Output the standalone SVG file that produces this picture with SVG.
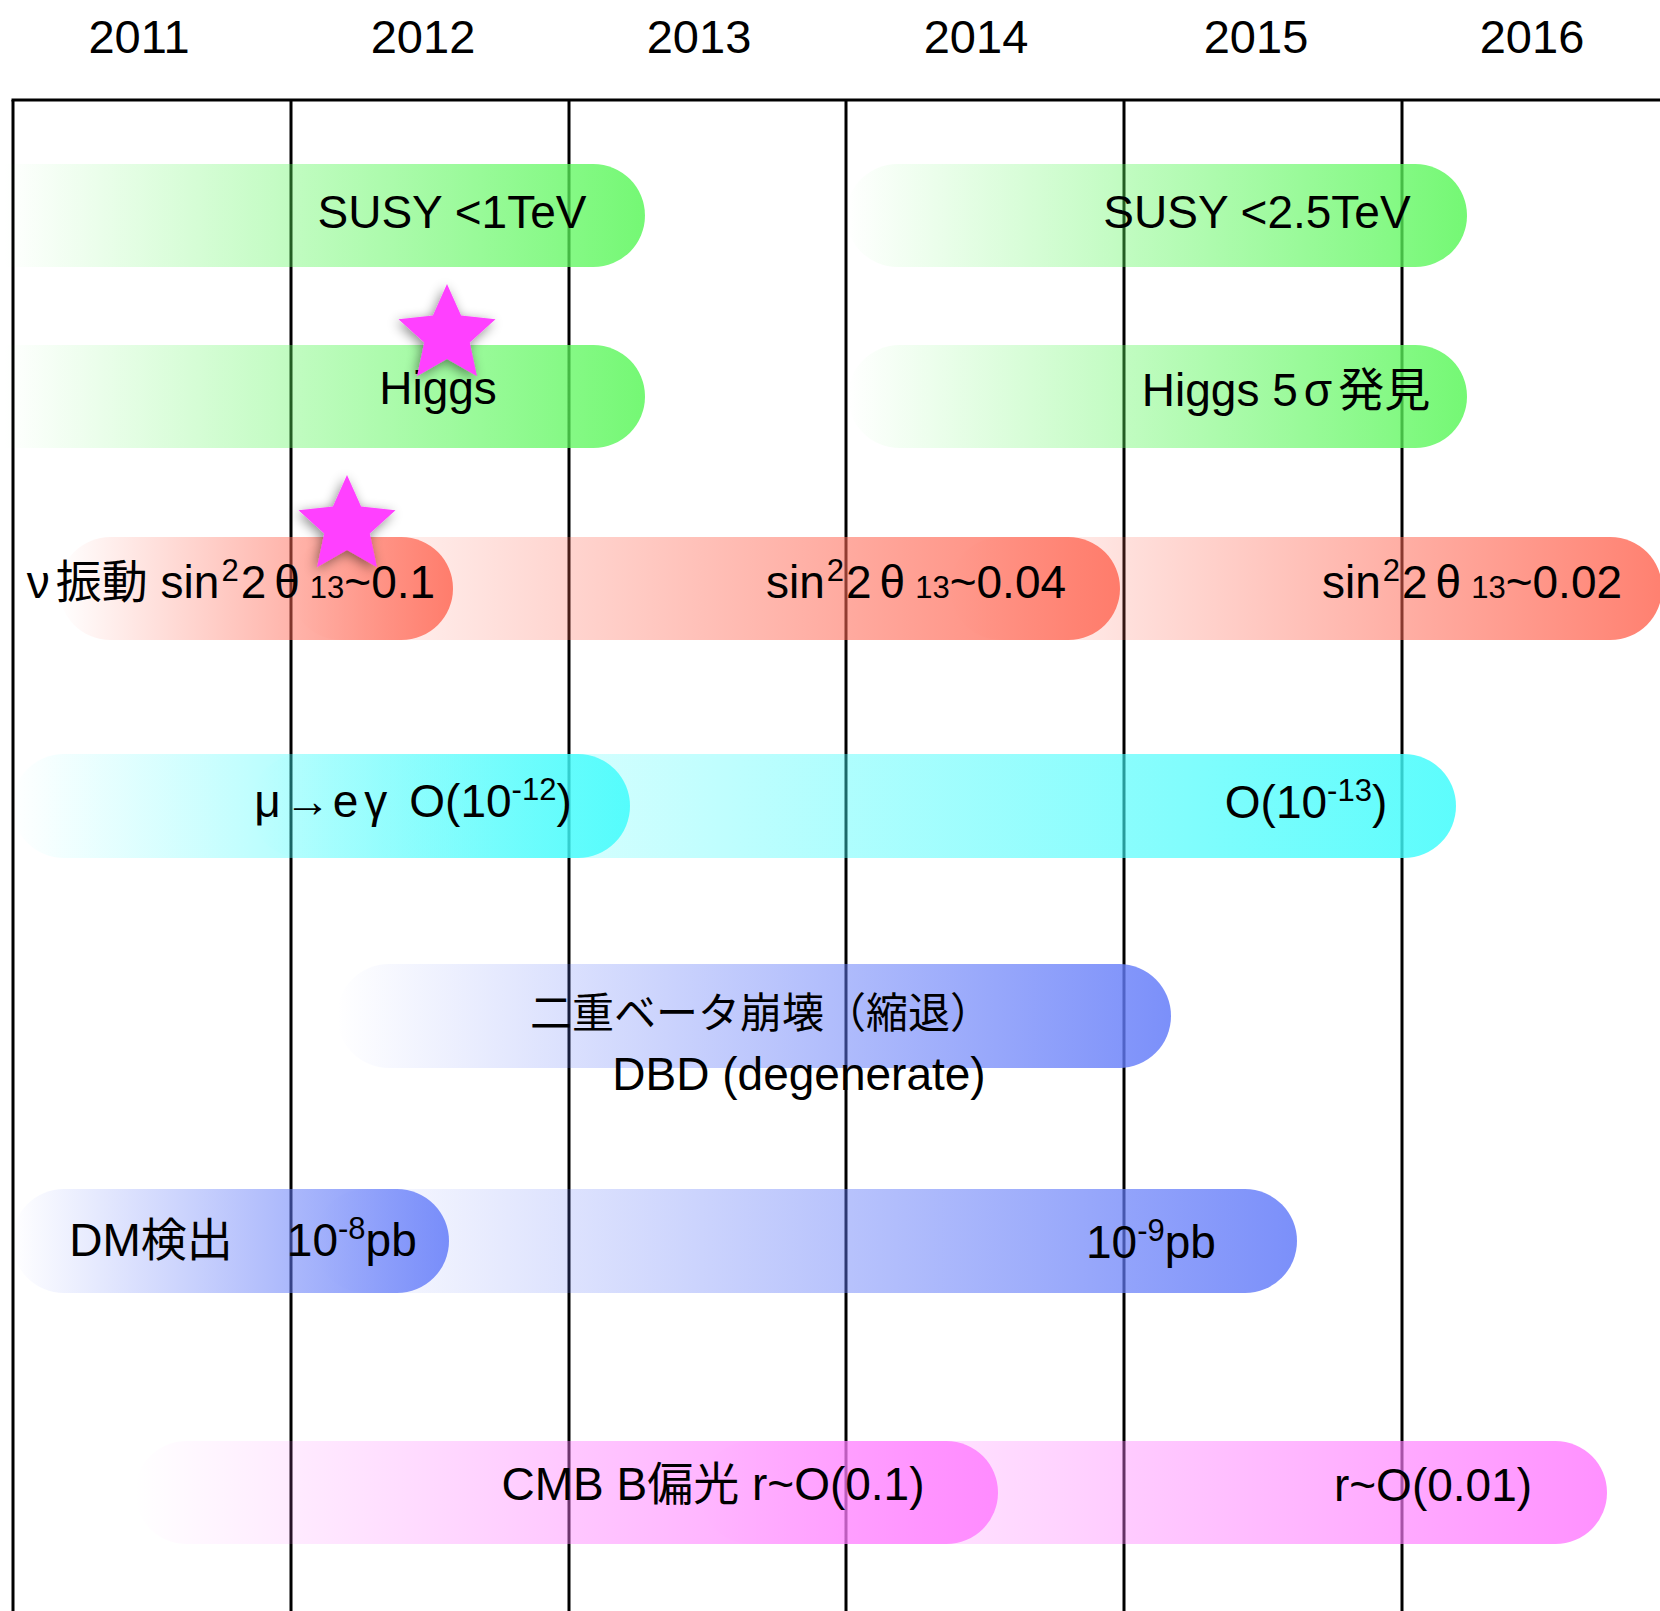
<svg xmlns="http://www.w3.org/2000/svg" width="1660" height="1611" viewBox="0 0 1660 1611">
<style>
text{font-family:"Liberation Sans","Noto Sans CJK JP",sans-serif;fill:#000}
.yr{font-size:47px;text-anchor:middle}
.lb{font-size:46px;text-anchor:middle}
.jp{font-size:42px;text-anchor:middle}
.sup{font-size:31px}
.grid line{stroke:#000;stroke-width:3}
</style>
<defs>
<linearGradient id="gG"><stop offset="0" stop-color="#5cf75c" stop-opacity="0"/><stop offset="1" stop-color="#5cf75c" stop-opacity="0.85"/></linearGradient>
<linearGradient id="gR"><stop offset="0" stop-color="#ff6a57" stop-opacity="0"/><stop offset="1" stop-color="#ff6a57" stop-opacity="0.85"/></linearGradient>
<linearGradient id="gC"><stop offset="0" stop-color="#40fcfc" stop-opacity="0"/><stop offset="1" stop-color="#40fcfc" stop-opacity="0.85"/></linearGradient>
<linearGradient id="gB"><stop offset="0" stop-color="#647cf9" stop-opacity="0"/><stop offset="1" stop-color="#647cf9" stop-opacity="0.85"/></linearGradient>
<linearGradient id="gP"><stop offset="0" stop-color="#ff7dff" stop-opacity="0"/><stop offset="1" stop-color="#ff7dff" stop-opacity="0.85"/></linearGradient>
<filter id="sh" x="-50%" y="-50%" width="200%" height="200%"><feDropShadow dx="-2" dy="3" stdDeviation="6" flood-color="#000" flood-opacity="0.45"/></filter>
<polygon id="star" points="0,-51 14.1,-19.4 48.5,-15.8 22.8,7.4 30,41.3 0,24 -30,41.3 -22.8,7.4 -48.5,-15.8 -14.1,-19.4" fill="#ff40ff"/>
</defs>
<rect width="1660" height="1611" fill="#fff"/>
<g id="years">
<text class="yr" x="139" y="53">2011</text>
<text class="yr" x="423" y="53">2012</text>
<text class="yr" x="699" y="53">2013</text>
<text class="yr" x="976" y="53">2014</text>
<text class="yr" x="1256" y="53">2015</text>
<text class="yr" x="1532" y="53">2016</text>
</g>
<g id="connectors" class="grid">
<line x1="11.5" y1="100" x2="1660" y2="100"/>
<line x1="13" y1="100" x2="13" y2="1611"/>
<line x1="291" y1="100" x2="291" y2="1611"/>
<line x1="569" y1="100" x2="569" y2="1611"/>
<line x1="846" y1="100" x2="846" y2="1611"/>
<line x1="1124" y1="100" x2="1124" y2="1611"/>
<line x1="1402" y1="100" x2="1402" y2="1611"/>
</g>
<g id="susy">
<path d="M4,164H593.5A51.5,51.5 0 0 1 593.5,267H4Z" fill="url(#gG)"/>
<rect x="846" y="164" width="621" height="103" rx="51.5" fill="url(#gG)"/>
<text class="lb" x="452" y="228">SUSY &lt;1TeV</text>
<text class="lb" x="1257" y="228">SUSY &lt;2.5TeV</text>
</g>
<g id="higgs">
<path d="M4,345H593.5A51.5,51.5 0 0 1 593.5,448H4Z" fill="url(#gG)"/>
<rect x="848" y="345" width="619" height="103" rx="51.5" fill="url(#gG)"/>
<text class="lb" x="438" y="404">Higgs</text>
<text class="lb" x="1286" y="406">Higgs 5<tspan dx="6">σ</tspan><tspan dx="6">発見</tspan></text>
</g>
<g id="neutrino">
<rect x="950" y="537" width="712" height="103" rx="51.5" fill="url(#gR)"/>
<rect x="290" y="537" width="830" height="103" rx="51.5" fill="url(#gR)"/>
<rect x="59" y="537" width="394" height="103" rx="51.5" fill="url(#gR)"/>
<text class="lb" x="231" y="598">ν<tspan dx="6">振動</tspan> sin<tspan class="sup" dx="2" dy="-17">2</tspan><tspan dx="2" dy="17">2</tspan><tspan dx="8">θ</tspan><tspan class="sup" dx="10">13</tspan>~0.1</text>
<text class="lb" x="916" y="598">sin<tspan class="sup" dx="2" dy="-17">2</tspan><tspan dx="2" dy="17">2</tspan><tspan dx="8">θ</tspan><tspan class="sup" dx="10">13</tspan>~0.04</text>
<text class="lb" x="1472" y="598">sin<tspan class="sup" dx="2" dy="-17">2</tspan><tspan dx="2" dy="17">2</tspan><tspan dx="8">θ</tspan><tspan class="sup" dx="10">13</tspan>~0.02</text>
</g>
<g id="mueg">
<rect x="250" y="754" width="1206" height="104" rx="52" fill="url(#gC)"/>
<rect x="12" y="754" width="618" height="104" rx="52" fill="url(#gC)"/>
<text class="lb" x="413" y="817">μ<tspan dx="4">→</tspan><tspan dx="2">e</tspan><tspan dx="6">γ</tspan><tspan dx="22">O(10</tspan><tspan class="sup" dy="-17">-12</tspan><tspan dy="17">)</tspan></text>
<text class="lb" x="1306" y="818">O(10<tspan class="sup" dy="-17">-13</tspan><tspan dy="17">)</tspan></text>
</g>
<g id="dbd">
<rect x="337" y="964" width="834" height="104" rx="52" fill="url(#gB)"/>
<text class="jp" x="761" y="1028">二重ベータ崩壊（縮退）</text>
<text class="lb" x="799" y="1090">DBD (degenerate)</text>
</g>
<g id="dm">
<rect x="314" y="1189" width="983" height="104" rx="52" fill="url(#gB)"/>
<rect x="12" y="1189" width="437" height="104" rx="52" fill="url(#gB)"/>
<text class="lb" x="243" y="1256">DM検出　<tspan dx="8">10</tspan><tspan class="sup" dy="-17">-8</tspan><tspan dy="17">pb</tspan></text>
<text class="lb" x="1151" y="1258">10<tspan class="sup" dy="-17">-9</tspan><tspan dy="17">pb</tspan></text>
</g>
<g id="cmb">
<rect x="700" y="1441" width="907" height="103" rx="51.5" fill="url(#gP)"/>
<rect x="135" y="1441" width="863" height="103" rx="51.5" fill="url(#gP)"/>
<text class="lb" x="713" y="1500">CMB B偏光 r~O(0.1)</text>
<text class="lb" x="1433" y="1501">r~O(0.01)</text>
</g>
<g id="stars" filter="url(#sh)">
<use href="#star" transform="translate(447,335)"/>
<use href="#star" transform="translate(347,526)"/>
</g>
</svg>
